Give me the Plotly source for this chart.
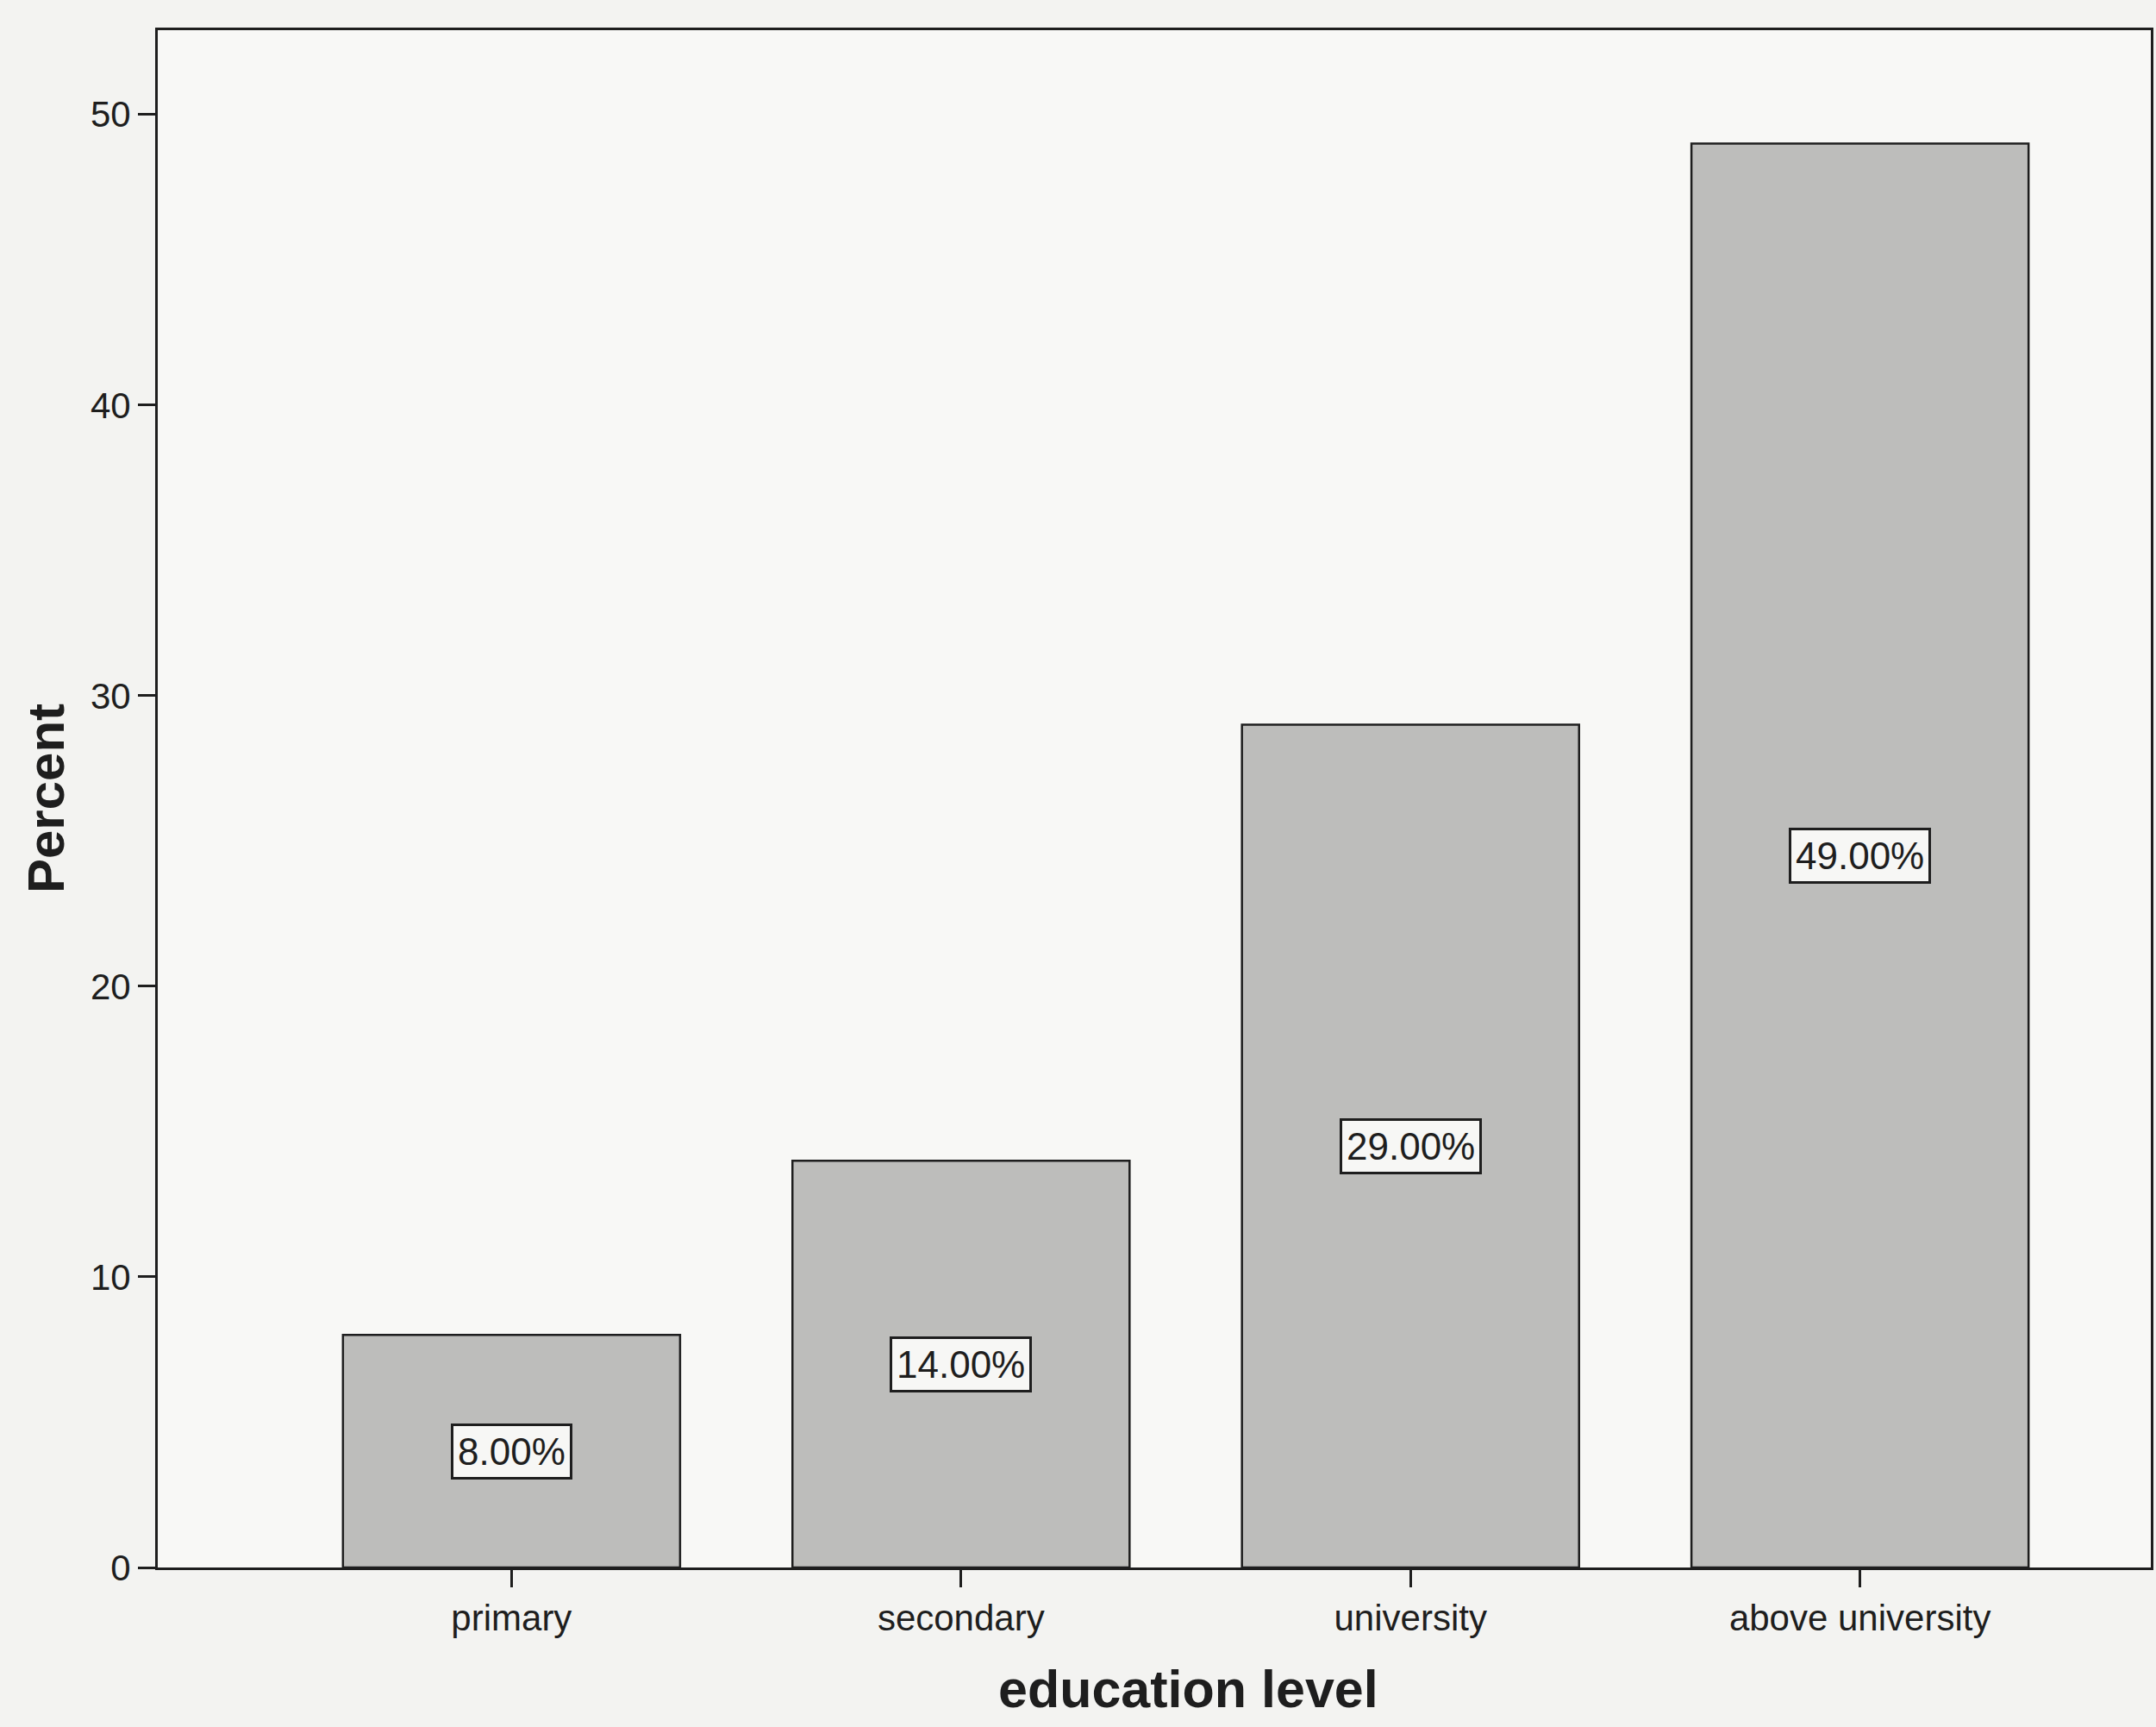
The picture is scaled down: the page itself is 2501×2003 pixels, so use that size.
import plotly.graph_objects as go

# Share of respondents by education level (percent)
categories = ["primary", "secondary", "university", "above university"]
percents = [8.0, 14.0, 29.0, 49.0]
y_ticks = [0, 10, 20, 30, 40, 50]

font_family = "Liberation Sans, Arial, sans-serif"
ink = "#1e1e1e"

fig = go.Figure()
fig.add_trace(go.Bar(
    x=categories,
    y=percents,
    marker=dict(color="#bdbdbb", line=dict(color=ink, width=2.5)),
    hoverinfo="skip",
))

# Value labels: boxed percentages at the middle of each bar
for cat, val in zip(categories, percents):
    fig.add_annotation(
        x=cat, y=val / 2, text=f"{val:.2f}%",
        showarrow=False,
        font=dict(family=font_family, size=44, color=ink),
        bgcolor="#f7f7f5", bordercolor=ink, borderwidth=3, borderpad=5,
    )

# Axis titles
fig.add_annotation(
    x=0.517, y=0, xref="paper", yref="paper", yshift=-141,
    text="<b>education level</b>", showarrow=False,
    font=dict(family=font_family, size=61, color=ink),
    xanchor="center", yanchor="middle",
)
fig.add_annotation(
    x=-0.056, y=0.5, xref="paper", yref="paper",
    text="<b>Percent</b>", showarrow=False, textangle=-90,
    font=dict(family=font_family, size=60, color=ink),
    xanchor="center", yanchor="middle",
)

fig.update_layout(
    width=2501, height=2003,
    margin=dict(l=183, r=3, t=35, b=185),
    paper_bgcolor="#f3f3f1",
    plot_bgcolor="#f8f8f6",
    bargap=0.25,
    showlegend=False,
    font=dict(family=font_family, color=ink),
)
fig.update_xaxes(
    range=[-0.787, 3.647],
    showline=True, linecolor=ink, linewidth=3, mirror=True,
    ticks="outside", ticklen=20, tickwidth=3, tickcolor=ink,
    tickfont=dict(family=font_family, size=42, color=ink),
    showgrid=False, zeroline=False,
)
fig.update_yaxes(
    range=[0, 52.9],
    tickvals=y_ticks,
    showline=True, linecolor=ink, linewidth=3, mirror=True,
    ticks="outside", ticklen=20, tickwidth=3, tickcolor=ink,
    tickfont=dict(family=font_family, size=42, color=ink),
    showgrid=False, zeroline=False,
)

fig.write_html("out.html")
